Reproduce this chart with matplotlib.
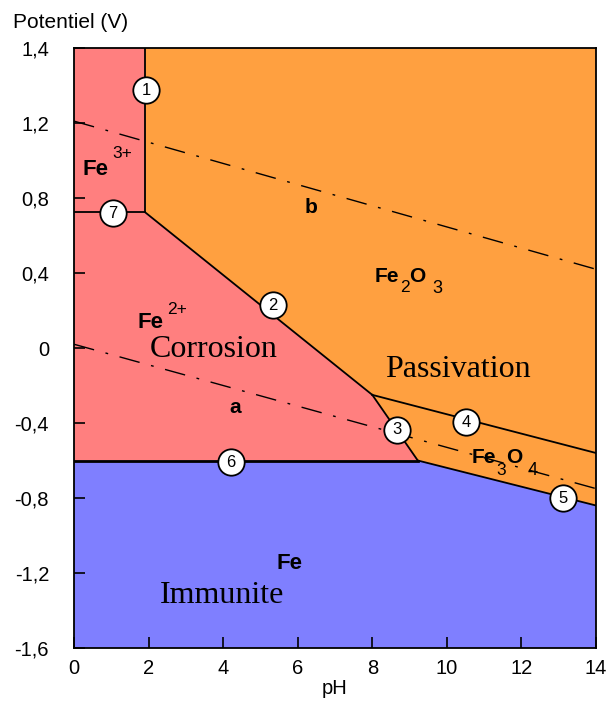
import matplotlib
matplotlib.use("Agg")
import matplotlib.pyplot as plt
import numpy as np

# ---- data (pH, potential in V) ----
ph_range = [0, 14]
e_range = [-1.6, 1.6]

# boundary lines
line7_ph = [0, 1.9];      line7_e = [0.725, 0.725]      # Fe3+/Fe2+
line1_ph = [1.9, 1.9];    line1_e = [0.725, 1.6]        # Fe3+/Fe2O3
line2_ph = [1.9, 8.0];    line2_e = [0.725, -0.25]      # Fe2+/Fe2O3
line3_ph = [8.0, 9.22];   line3_e = [-0.25, -0.60]      # Fe2+/Fe3O4
line4_ph = [8.0, 14.0];   line4_e = [-0.25, -0.56]      # Fe2O3/Fe3O4
line5_ph = [9.22, 14.0];  line5_e = [-0.60, -0.84]      # Fe3O4/Fe
line6_ph = [0, 9.22];     line6_e = [-0.60, -0.60]      # Fe2+/Fe

# water lines
a_ph = [0, 14]; a_e = [0.02, -0.75]
b_ph = [0, 14]; b_e = [1.21, 0.42]

# circle labels
circle_ids = ["1", "7", "2", "3", "4", "5", "6"]
circle_ph = [1.93, 1.05, 5.34, 8.66, 10.51, 13.11, 4.21]
circle_e = [1.376, 0.72, 0.229, -0.437, -0.395, -0.80, -0.608]

yticks = [-1.6, -1.2, -0.8, -0.4, 0, 0.4, 0.8, 1.2, 1.6]
ytick_labels = ["-1,6", "-1,2", "-0,8", "-0,4", "0", "0,4", "0,8", "1,2", "1,4"]
xticks = [0, 2, 4, 6, 8, 10, 12, 14]

PINK = "#FF7F7F"
ORANGE = "#FFA040"
BLUE = "#7F7FFF"

sans = "Liberation Sans"
serif = "Liberation Serif"

fig = plt.figure(figsize=(6.08, 7.02), dpi=100)
ax = fig.add_axes([74/608, 1-648/702, (596-74)/608, 600/702])
ax.set_xlim(*ph_range)
ax.set_ylim(*e_range)
ax.set_facecolor(ORANGE)

# regions
pink_x = [0, 0, line1_ph[0], line1_ph[0], line2_ph[1], line3_ph[1]]
pink_y = [line6_e[0], e_range[1], e_range[1], line1_e[0], line2_e[1], line3_e[1]]
ax.fill(pink_x, pink_y, color=PINK, lw=0, zorder=1)
blue_x = [0, 0, line6_ph[1], line5_ph[1], 14, 14]
blue_y = [e_range[0], line6_e[0], line6_e[1], line5_e[1], line5_e[1], e_range[0]]
ax.fill(blue_x, blue_y, color=BLUE, lw=0, zorder=1)

for px, py in [(line7_ph, line7_e), (line1_ph, line1_e), (line2_ph, line2_e),
               (line3_ph, line3_e), (line4_ph, line4_e), (line5_ph, line5_e)]:
    ax.plot(px, py, color="black", lw=1.3, zorder=3)
ax.plot(line6_ph, line6_e, color="black", lw=2.0, zorder=3)

dash = (0, (15, 8.5, 2, 8.5))
ax.plot(a_ph, a_e, color="black", lw=1.0, linestyle=dash, zorder=2)
ax.plot(b_ph, b_e, color="black", lw=1.0, linestyle=dash, zorder=2)

ax.plot(circle_ph, circle_e, linestyle="none", marker="o", ms=19,
        mfc="white", mec="black", mew=1.3, zorder=5)
for cid, cx, cy in zip(circle_ids, circle_ph, circle_e):
    ax.text(cx, cy, cid, ha="center", va="center", fontsize=12,
            family=sans, zorder=6)

# species labels
def t(x, y, s, size, fam=sans, weight="normal"):
    ax.text(x, y, s, fontsize=size, family=fam, weight=weight,
            ha="left", va="baseline", zorder=4)

t(0.215, 0.923, "Fe", 16, weight="bold")
t(1.02, 1.013, "3+", 12.5)
t(1.69, 0.107, "Fe", 16, weight="bold")
t(2.49, 0.181, "2+", 12.5)
t(8.07, 0.352, "Fe", 15, weight="bold")
t(8.74, 0.299, "2", 12.5)
t(8.99, 0.352, "O", 15, weight="bold")
t(9.6, 0.293, "3", 13)
t(10.67, -0.613, "Fe", 15, weight="bold")
t(11.33, -0.677, "3", 12.5)
t(11.58, -0.613, "O", 15, weight="bold")
t(12.17, -0.677, "4", 13)
t(5.44, -1.179, "Fe", 16, weight="bold")
t(6.19, 0.72, "b", 15, weight="bold")
t(4.16, -0.347, "a", 15, weight="bold")

t(2.04, -0.048, "Corrosion", 23, fam=serif)
t(8.34, -0.155, "Passivation", 23, fam=serif)
t(2.31, -1.36, "Immunite", 23, fam=serif)

# axes styling
ax.set_xticks(xticks)
ax.set_xticklabels([str(v) for v in xticks])
ax.set_yticks(yticks)
ax.set_yticklabels(ytick_labels)
ax.tick_params(direction="in", length=8, width=1.2, labelsize=14.5)
ax.tick_params(axis="y", pad=18)
ax.tick_params(axis="x", pad=8)
for lab in ax.get_xticklabels() + ax.get_yticklabels():
    lab.set_family(sans)
for sp in ax.spines.values():
    sp.set_linewidth(1.3)
    sp.set_zorder(6)

ax.set_xlabel("pH", family=sans, fontsize=14.5, labelpad=1)
fig.text(13/608, 1-22/702, "Potentiel (V)", family=sans, fontsize=15,
         ha="left", va="center")

fig.savefig("out.png", dpi=100)
